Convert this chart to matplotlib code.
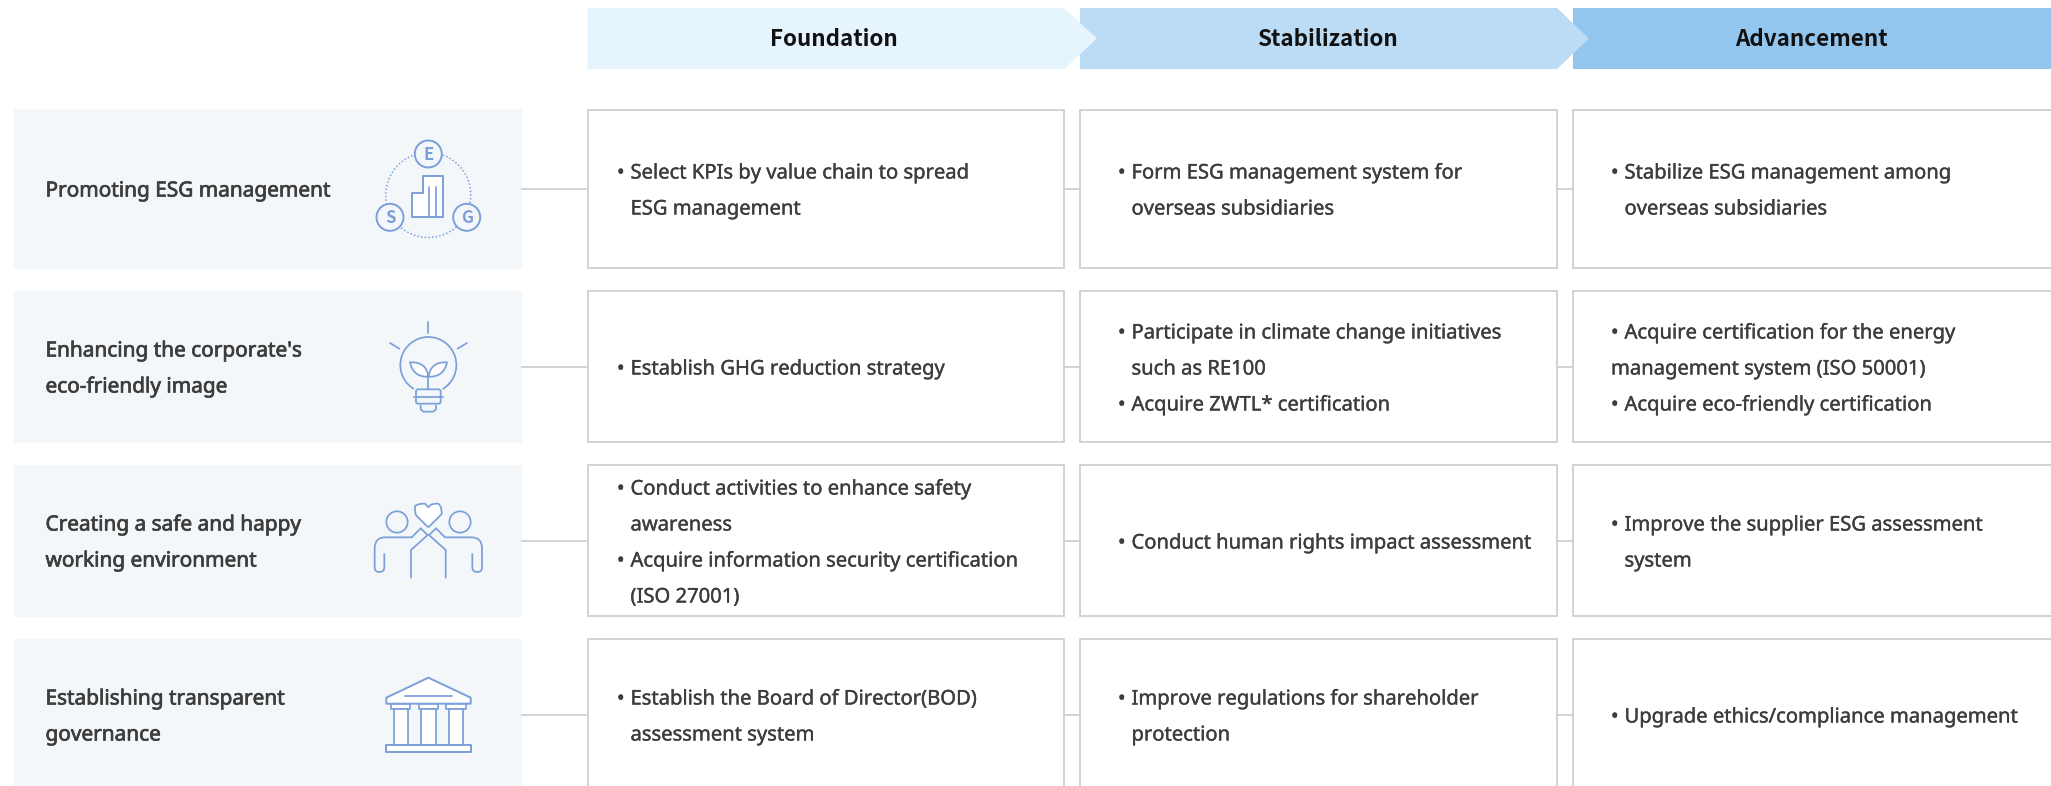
import matplotlib
matplotlib.use("Agg")
import matplotlib.pyplot as plt
import matplotlib.patheffects as pe
from matplotlib.patches import Rectangle, Polygon, Circle, PathPatch, Arc, FancyBboxPatch
from matplotlib.path import Path

plt.rcParams['font.family'] = ['Noto Sans', 'DejaVu Sans']

phases = ["Foundation", "Stabilization", "Advancement"]
topics = [["Promoting ESG management"],
          ["Enhancing the corporate's", "eco-friendly image"],
          ["Creating a safe and happy", "working environment"],
          ["Establishing transparent", "governance"]]
# "*" prefix marks a bulleted line; other lines are continuation, "<" = not indented
cells = [
    [["*Select KPIs by value chain to spread", "ESG management"],
     ["*Form ESG management system for", "overseas subsidiaries"],
     ["*Stabilize ESG management among", "overseas subsidiaries"]],
    [["*Establish GHG reduction strategy"],
     ["*Participate in climate change initiatives", "such as RE100", "*Acquire ZWTL* certification"],
     ["*Acquire certification for the energy", "<management system (ISO 50001)", "*Acquire eco-friendly certification"]],
    [["*Conduct activities to enhance safety", "awareness", "*Acquire information security certification", "(ISO 27001)"],
     ["*Conduct human rights impact assessment"],
     ["*Improve the supplier ESG assessment", "system"]],
    [["*Establish the Board of Director(BOD)", "assessment system"],
     ["*Improve regulations for shareholder", "protection"],
     ["*Upgrade ethics/compliance management"]],
]

W, H = 2051, 786
HEAD = ['#e6f4fd', '#bcdcf5', '#92c6ee']
PANEL = '#f3f7fa'
BORDER = '#cfcfcf'
INK = '#3d3d3d'
ICON = '#7b9fd9'
PX = 20.2 * 0.72
PX_TOPIC = 20.8 * 0.72
LEAD = 36
BODY_FX = [pe.withStroke(linewidth=0.25, foreground=INK)]
TOPIC_FX = [pe.withStroke(linewidth=0.5, foreground=INK)]

fig = plt.figure(figsize=(W / 100, H / 100), dpi=100)
ax = fig.add_axes([0, 0, 1, 1])
ax.set_xlim(0, W)
ax.set_ylim(H, 0)
ax.axis('off')

row_y = [(110, 268), (291, 442), (465, 616), (639, 800)]
panel_y = [(108.5, 269), (291, 443), (465, 617), (639, 800)]
line_y = [189, 367, 541, 715]
col_x = [(587.5, 1064), (1080, 1557), (1572.5, 2060)]
bullet_x = [617, 1118, 1611]
text_dx = 13.5

hdr = [(587.5, 1064, 1097), (1080, 1557, 1589), (1572.5, 2051, None)]
for i in (2, 1, 0):
    x0, x1, tip = hdr[i]
    if tip is None:
        pts = [(x0, 8), (x1, 8), (x1, 69), (x0, 69)]
    else:
        pts = [(x0, 8), (x1, 8), (tip, 38.5), (x1, 69), (x0, 69)]
    ax.add_patch(Polygon(pts, closed=True, fc=HEAD[i], ec='none', zorder=1 + (2 - i)))
for name, cx in zip(phases, (834, 1327, 1811)):
    ax.text(cx, 46.5, name, ha='center', va='baseline', fontsize=22.4 * 0.72,
            family=['Noto Sans CJK KR', 'DejaVu Sans'], fontweight='bold',
            color='#111111', zorder=6)


def put(x, y, s, size=PX, fx=BODY_FX):
    ax.text(x, y, s, ha='left', va='baseline', fontsize=size, color=INK, zorder=5,
            path_effects=fx)


for r, lines in enumerate(topics):
    y0, y1 = panel_y[r]
    ax.add_patch(Rectangle((14, y0), 508, y1 - y0, fc=PANEL, ec='none', zorder=1))
    ax.plot([522, 587.5], [line_y[r]] * 2, color=BORDER, lw=1.3, zorder=1)
    n = len(lines)
    for k, s in enumerate(lines):
        put(45.5, line_y[r] + (k - (n - 1) / 2) * LEAD + 7.5, s, PX_TOPIC, TOPIC_FX)
    for c in range(3):
        xa, xb = col_x[c]
        ya, yb = row_y[r]
        ax.add_patch(Rectangle((xa, ya), xb - xa, yb - ya, fc='white', ec=BORDER, lw=1.3, zorder=2))
        if c < 2:
            ax.plot([xb, col_x[c + 1][0]], [line_y[r]] * 2, color=BORDER, lw=1.3, zorder=1)
        cl = cells[r][c]
        m = len(cl)
        for k, s in enumerate(cl):
            y = line_y[r] + (k - (m - 1) / 2) * LEAD + 7.5
            if s[0] == '*':
                put(bullet_x[c], y, "\u2022")
                put(bullet_x[c] + text_dx, y, s[1:])
            elif s[0] == '<':
                put(bullet_x[c], y, s[1:])
            else:
                put(bullet_x[c] + text_dx, y, s)

LW = 1.25
Z = 4


def mk(ox, oy):
    return lambda p: [(ox + a / 3, oy + b / 3) for a, b in p]


def poly(f, p, fc='none', closed=True, lw=LW):
    ax.add_patch(Polygon(f(p), closed=closed, fc=fc, ec=ICON, lw=lw, zorder=Z, joinstyle='round'))


def ln(f, p, lw=LW):
    q = f(p)
    ax.plot([a for a, _ in q], [b for _, b in q], color=ICON, lw=lw, zorder=Z, solid_capstyle='round')


def curve(f, verts, codes, fc='none'):
    ax.add_patch(PathPatch(Path(f(verts), codes), fc=fc, ec=ICON, lw=LW, zorder=Z))


M, L, C3, C4, CL = Path.MOVETO, Path.LINETO, Path.CURVE3, Path.CURVE4, Path.CLOSEPOLY

# --- ESG icon
f = mk(340, 130)
ax.add_patch(Circle((428.3, 195), 42.5, fc='none', ec=ICON, lw=1.1, ls=(0, (1, 1.4)), zorder=Z))
for (cx, cy), t in zip([(428.3, 154), (390, 217.3), (466.7, 217.3)], "ESG"):
    ax.add_patch(Circle((cx, cy), 13.5, fc=PANEL, ec=ICON, lw=1.4, zorder=Z + 0.1))
    ax.text(cx, cy + 6, t, ha='center', va='baseline', fontsize=12,
            family=['Noto Sans CJK KR', 'DejaVu Sans'], fontweight='bold',
            color=ICON, zorder=Z + 0.2)
poly(f, [(217, 190), (248, 190), (248, 138), (310, 138), (310, 260), (217, 260)], fc='white', lw=1.4)
ln(f, [(268, 172), (268, 260)])
ln(f, [(288, 172), (288, 260)])

# --- bulb icon
f = mk(370, 310)
ln(f, [(175, 35), (175, 68)])
ln(f, [(60, 99), (88, 116)])
ln(f, [(291, 99), (263, 116)])
ax.add_patch(Arc((370 + 175 / 3, 310 + 165 / 3), 2 * 84 / 3, 2 * 84 / 3, theta1=121, theta2=59,
                 ec=ICON, lw=LW, zorder=Z))
curve(f, [(120, 157), (170, 155), (175, 200), (130, 202), (120, 157), (120, 157)],
      [M, C3, C3, C3, C3, CL], fc='white')
curve(f, [(231, 157), (181, 155), (176, 200), (221, 202), (231, 157), (231, 157)],
      [M, C3, C3, C3, C3, CL], fc='white')
ln(f, [(175, 195), (175, 238)])
ax.add_patch(FancyBboxPatch((370 + 132 / 3 + 2, 310 + 238 / 3), 86 / 3 - 4, 49 / 3 - 2,
             boxstyle="round,pad=0,rounding_size=2", fc='none', ec=ICON, lw=LW, zorder=Z))
ln(f, [(132, 262), (218, 262)])
ln(f, [(152, 287), (152, 298), (160, 305), (190, 305), (198, 298), (198, 287)])

# --- people icon
f = mk(360, 490)
for cx in (111, 300):
    ax.add_patch(Circle((360 + cx / 3, 490 + 96 / 3), 32 / 3, fc='none', ec=ICON, lw=LW, zorder=Z))
curve(f, [(205, 112), (170, 78), (165, 72), (165, 62),
          (165, 48), (176, 41), (185, 41),
          (195, 41), (202, 48), (205, 56),
          (208, 48), (215, 41), (225, 41),
          (234, 41), (245, 48), (245, 62),
          (245, 72), (240, 78), (205, 112),
          (205, 112)],
      [M, L, C4, C4, C4, C4, C4, C4, C4, C4, C4, C4, C4, C4, C4, C4, C4, C4, C4, CL], fc='white')
for sgn in (1, -1):
    mx = lambda a: a if sgn == 1 else 410 - a
    arm = [(mx(a), b) for a, b in [(73, 190), (73, 232), (73, 246), (58, 246), (44, 246), (44, 232),
                                   (44, 175), (44, 142), (75, 142), (155, 142), (182, 115), (203, 135),
                                   (153, 180), (153, 265)]]
    curve(f, arm, [M, L, C3, C3, C3, C3, L, C3, C3, L, L, L, L, L])

# --- temple icon
f = mk(370, 665)
poly(f, [(175, 38), (302, 98), (302, 116), (49, 116), (49, 98)], fc='white', lw=1.4)
ln(f, [(104, 94), (247, 94)])
for a, b in [(63, 121), (146, 205), (229, 287)]:
    poly(f, [(a, 116), (b, 116), (b, 133), (a, 133)], fc='white')
for a, b in [(71, 114), (154, 197), (237, 280)]:
    poly(f, [(a, 133), (b, 133), (b, 241), (a, 241)], fc='white')
poly(f, [(49, 241), (302, 241), (302, 261), (49, 261)], fc='white', lw=1.4)

fig.savefig("out.png", dpi=100, facecolor='white')
